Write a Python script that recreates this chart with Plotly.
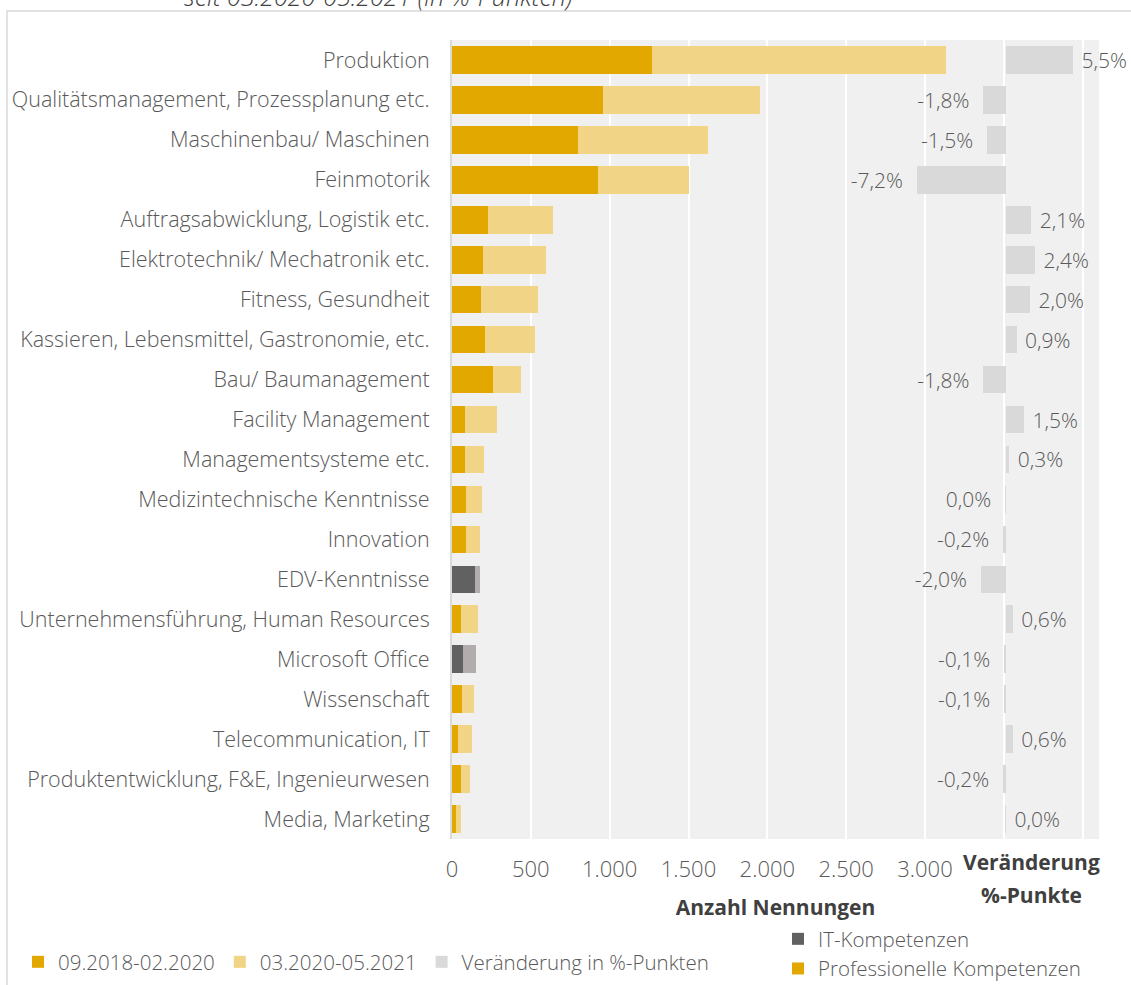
import plotly.graph_objects as go

categories = [
    "Produktion",
    "Qualitätsmanagement, Prozessplanung etc.",
    "Maschinenbau/ Maschinen",
    "Feinmotorik",
    "Auftragsabwicklung, Logistik etc.",
    "Elektrotechnik/ Mechatronik etc.",
    "Fitness, Gesundheit",
    "Kassieren, Lebensmittel, Gastronomie, etc.",
    "Bau/ Baumanagement",
    "Facility Management",
    "Managementsysteme etc.",
    "Medizintechnische Kenntnisse",
    "Innovation",
    "EDV-Kenntnisse",
    "Unternehmensführung, Human Resources",
    "Microsoft Office",
    "Wissenschaft",
    "Telecommunication, IT",
    "Produktentwicklung, F&E, Ingenieurwesen",
    "Media, Marketing",
]
period1 = [1269, 957, 799, 926, 228, 197, 184, 209, 260, 82, 82, 89, 89, 146, 57, 70, 63, 38, 57, 25]
period2 = [1865, 997, 825, 578, 410, 399, 362, 316, 178, 204, 121, 101, 89, 32, 108, 82, 77, 89, 57, 32]
change_pp = [5.5, -1.8, -1.5, -7.2, 2.1, 2.4, 2.0, 0.9, -1.8, 1.5, 0.3, -0.04, -0.2, -2.0, 0.6, -0.1, -0.1, 0.6, -0.2, 0.04]
it_skills = ["EDV-Kenntnisse", "Microsoft Office"]

x_tickvals = [0, 500, 1000, 1500, 2000, 2500, 3000, 3500, 4000]
x_ticktext = ["0", "500", "1.000", "1.500", "2.000", "2.500", "3.000", "", ""]

C_P1 = "#e2a800"
C_P2 = "#f2d487"
C_IT1 = "#616161"
C_IT2 = "#b0adac"
C_CHG = "#d9d9d9"
TXT = "#595959"
DARK = "#404040"
FONT = "Open Sans"

is_it = [c in it_skills for c in categories]
p1_prof = [None if it else v for v, it in zip(period1, is_it)]
p2_prof = [None if it else v for v, it in zip(period2, is_it)]
p1_it = [v if it else None for v, it in zip(period1, is_it)]
p2_it = [v if it else None for v, it in zip(period2, is_it)]


def fmt(v):
    r = round(v, 1)
    if r == 0:
        return "0,0"
    return f"{r:.1f}".replace(".", ",")


chg_text = [("\u00a0" + fmt(v) + "%") if v >= 0 else (fmt(v) + "%\u00a0\u00a0") for v in change_pp]

# pixel geometry of the plot area
W, H = 1131, 985
L, R, T, B = 452, 32, 40, 146
PW, PH = W - L - R, H - T - B


def px_x(p):
    return (p - L) / PW


def px_y(p):
    return (H - B - p) / PH


lf = dict(family=FONT, size=21.5, color=TXT, weight=300)
cf = dict(family=FONT, size=21, color=TXT, weight=300)
tf = dict(family=FONT, size=22, color=TXT, weight=300)
gf = dict(family=FONT, size=20.5, color=TXT, weight=300)
bf = dict(family=FONT, size=21, color=DARK)

fig = go.Figure()
fig.add_trace(go.Bar(y=categories, x=p1_prof, orientation="h", name="09.2018-02.2020",
                     marker=dict(color=C_P1, line=dict(width=0)), legend="legend"))
fig.add_trace(go.Bar(y=categories, x=p1_it, orientation="h", name="IT-Kompetenzen",
                     marker=dict(color=C_IT1, line=dict(width=0)), legend="legend2"))
fig.add_trace(go.Bar(y=categories, x=p2_prof, orientation="h", name="03.2020-05.2021",
                     marker=dict(color=C_P2, line=dict(width=0)), legend="legend"))
fig.add_trace(go.Bar(y=categories, x=p2_it, orientation="h", name="IT 03.2020-05.2021",
                     marker=dict(color=C_IT2, line=dict(width=0)), showlegend=False))
fig.add_trace(go.Bar(y=categories, x=change_pp, orientation="h", name="Veränderung in %-Punkten",
                     xaxis="x2", marker=dict(color=C_CHG, line=dict(width=0)),
                     text=chg_text, textposition="outside", cliponaxis=False,
                     constraintext="none", textfont=cf, legend="legend"))
fig.add_trace(go.Bar(y=[None], x=[None], orientation="h", name="Professionelle Kompetenzen",
                     marker=dict(color=C_P1, line=dict(width=0)), legend="legend2"))

zero_px = 1005.5
pp_px = 12.3
x2_lo = -(zero_px - L) / pp_px
x2_hi = (L + PW - zero_px) / pp_px
x_hi = PW / (473 / 3000)

fig.update_layout(
    width=W, height=H,
    margin=dict(l=L, r=R, t=T, b=B, pad=0, autoexpand=False),
    paper_bgcolor="white",
    plot_bgcolor="#f0f0f0",
    barmode="stack",
    bargap=0.31,
    font=lf,
    separators=",.",
    xaxis=dict(range=[0, x_hi], tickvals=x_tickvals, ticktext=x_ticktext,
               showgrid=True, gridcolor="white", gridwidth=2, zeroline=False,
               showline=False, ticks="", ticklabelstandoff=15, automargin=False,
               tickfont=tf,
               title=dict(text="<b>Anzahl Nennungen</b>", standoff=18, font=bf)),
    xaxis2=dict(range=[x2_lo, x2_hi], overlaying="x", side="bottom", visible=False,
                showgrid=False, zeroline=False),
    yaxis=dict(categoryorder="array", categoryarray=categories, autorange="reversed",
               showgrid=False, zeroline=False, showline=True, linecolor="#d9d9d9", linewidth=2,
               ticks="", ticklabelstandoff=16, automargin=False, tickfont=lf),
    legend=dict(orientation="h", x=px_x(18), y=px_y(962), xanchor="left", yanchor="middle",
                font=gf, bgcolor="rgba(0,0,0,0)", itemwidth=30, traceorder="normal"),
    legend2=dict(orientation="v", x=px_x(778), y=px_y(954), xanchor="left", yanchor="middle",
                 font=gf, bgcolor="rgba(0,0,0,0)", itemwidth=30, traceorder="normal",
                 tracegroupgap=0),
    showlegend=True,
    shapes=[dict(type="rect", xref="paper", yref="paper",
                 x0=px_x(7), y0=px_y(11), x1=px_x(1200), y1=px_y(1100),
                 line=dict(color="#d9d9d9", width=1.5), fillcolor="rgba(0,0,0,0)", layer="below")],
    annotations=[
        dict(text="<i>seit 03.2020-05.2021 (in %-Punkten)</i>", xref="paper", yref="paper",
             x=px_x(378), y=px_y(-4), xanchor="center", yanchor="middle", showarrow=False,
             font=dict(family=FONT, size=25, color=DARK, weight=300)),
        dict(text="<b>Veränderung</b>", xref="paper", yref="paper",
             x=px_x(1031), y=px_y(862), xanchor="center", yanchor="middle", showarrow=False,
             font=bf),
        dict(text="<b>%-Punkte</b>", xref="paper", yref="paper",
             x=px_x(1031), y=px_y(895), xanchor="center", yanchor="middle", showarrow=False,
             font=bf),
    ],
)

fig.write_html("out.html", config={"displayModeBar": False},
               post_script="document.body.style.margin='0';document.body.style.overflow='hidden';")
